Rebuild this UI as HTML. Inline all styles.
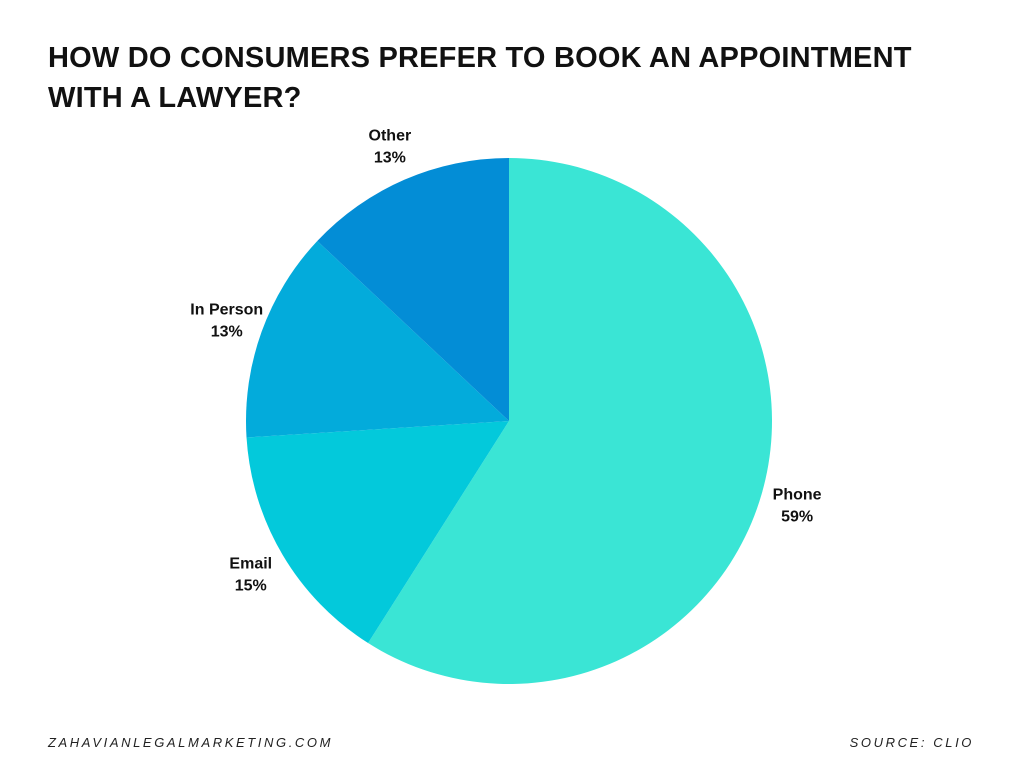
<!DOCTYPE html>
<html><head><meta charset="utf-8"><style>
body{margin:0;width:1024px;height:768px;background:#fff;overflow:hidden;font-family:"Liberation Sans",Arial,sans-serif}
#title{position:absolute;left:48px;top:38px;width:940px;font-size:29px;font-weight:bold;line-height:40px;color:#111;letter-spacing:0.2px}
.foot{position:absolute;top:735px;font-size:13px;font-style:italic;letter-spacing:2.6px;color:#222}
svg{position:absolute;left:0;top:0}
</style></head><body>
<div id="title">HOW DO CONSUMERS PREFER TO BOOK AN APPOINTMENT WITH A LAWYER?</div>
<svg id="chart" width="1024" height="768"></svg>
<div class="foot" style="left:48px">ZAHAVIANLEGALMARKETING.COM</div>
<div class="foot" style="right:50px">SOURCE: CLIO</div>
<script>
const categories=["Phone","Email","In Person","Other"];
const values=[59,15,13,13];
const colors=["#3ae5d5","#03c9db","#03abdb","#038dd6"];
const svg=document.getElementById('chart');
const NS='http://www.w3.org/2000/svg';
const cx=509,cy=421,R=263,LR=300;
const total=values.reduce((a,b)=>a+b,0);
function pt(a,r){return [cx+r*Math.sin(a),cy-r*Math.cos(a)];}
let acc=0;
values.forEach((v,i)=>{
  const a0=acc/total*2*Math.PI;acc+=v;const a1=acc/total*2*Math.PI;
  const p0=pt(a0,R),p1=pt(a1,R);
  const path=document.createElementNS(NS,'path');
  path.setAttribute('d',`M${cx},${cy}L${p0[0]},${p0[1]}A${R},${R} 0 ${a1-a0>Math.PI?1:0} 1 ${p1[0]},${p1[1]}Z`);
  path.setAttribute('fill',colors[i]);
  
  
  svg.appendChild(path);
  const am=(a0+a1)/2;const lp=pt(am,LR);
  const t=document.createElementNS(NS,'text');
  t.setAttribute('x',lp[0]);t.setAttribute('y',lp[1]-5);
  t.setAttribute('text-anchor','middle');t.setAttribute('font-size','16');t.setAttribute('font-weight','bold');
  t.setAttribute('font-family','Liberation Sans, Arial, sans-serif');t.setAttribute('fill','#111');
  
  
  const s1=document.createElementNS(NS,'tspan');s1.setAttribute('x',lp[0]);s1.textContent=categories[i];
  const s2=document.createElementNS(NS,'tspan');s2.setAttribute('x',lp[0]);s2.setAttribute('dy','22');s2.textContent=v+'%';
  t.appendChild(s1);t.appendChild(s2);svg.appendChild(t);
});
</script>
</body></html>
